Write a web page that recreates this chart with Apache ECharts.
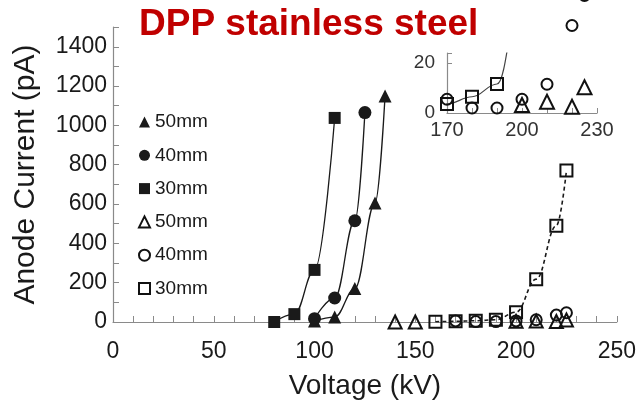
<!DOCTYPE html>
<html><head><meta charset="utf-8">
<script src="https://cdn.jsdelivr.net/npm/echarts@6/dist/echarts.min.js"></script>
<style>html,body{margin:0;padding:0;background:#fff}#c{width:639px;height:405px}</style>
</head><body><div id="c"></div>
<script>
// Filled symbols (solid fit lines)
const filled50 = [[100, 5], [110, 25], [120, 170], [130, 605], [135, 1150]];
const filled40 = [[100, 17], [110, 122], [120, 515], [125, 1065]];
const filled30 = [[80, 0], [90, 40], [100, 265], [110, 1038]];
// Open symbols
const open50 = [[140, 0], [150, 0], [200, 3.2], [210, 4.5], [220, 2.5], [225, 10.3]];
const open40 = [[170, 5.5], [180, 2], [190, 2], [200, 5.5], [210, 11.5], [220, 35], [225, 47]];
const open30 = [[160, 1], [170, 3.6], [180, 6.5], [190, 11.6], [200, 50], [210, 218], [220, 490], [225, 770]];
const legendNames = {f50: '50mm', f40: '40mm', f30: '30mm', o50: '50mm', o40: '40mm', o30: '30mm'};
const mainXLabels = [0, 50, 100, 150, 200, 250];
const mainYLabels = [0, 200, 400, 600, 800, 1000, 1200, 1400];
const insetXLabels = [170, 200, 230];
const insetYLabels = [0, 20];

const FONT = 'Liberation Sans, Arial, sans-serif';
const INK = '#1a1a1a';
const AX = '#8a8a8a';
const filledStyle = {color: INK, opacity: 1};
const openStyle = {color: 'rgba(255,255,255,0)', borderColor: '#111', borderWidth: 2, opacity: 1};

const chart = echarts.init(document.getElementById('c'));
chart.setOption({
  animation: false,
  backgroundColor: '#fff',
  title: {text: 'DPP stainless steel', left: 134, top: 1,
    textStyle: {fontFamily: FONT, fontSize: 37, fontWeight: 'bold', color: '#c00000'}},
  legend: {
    orient: 'vertical', left: 133, top: 107, itemWidth: 11, itemHeight: 11, itemGap: 13.3,
    textStyle: {fontFamily: FONT, fontSize: 19, color: INK, lineHeight: 20},
    formatter: n => legendNames[n],
    data: [{name: 'f50', icon: 'triangle'}, {name: 'f40', icon: 'circle'}, {name: 'f30', icon: 'rect'},
           {name: 'o50', icon: 'triangle'}, {name: 'o40', icon: 'circle'}, {name: 'o30', icon: 'rect'}]
  },
  grid: [
    {left: 113, right: 19, top: 27.1, bottom: 80},
    {left: 447, right: 42, top: 53, bottom: 292}
  ],
  xAxis: [
    {gridIndex: 0, type: 'value', min: 0, max: 250, interval: 10,
     name: 'Voltage (kV)', nameLocation: 'middle', nameGap: 50,
     nameTextStyle: {fontFamily: FONT, fontSize: 28, color: INK},
     axisLine: {lineStyle: {color: AX, width: 1.2}},
     axisTick: {inside: true, length: 6, lineStyle: {color: AX}},
     axisLabel: {fontFamily: FONT, fontSize: 23, color: INK, margin: 18,
       formatter: v => mainXLabels.includes(v) ? String(v) : ''},
     splitLine: {show: false}},
    {gridIndex: 1, type: 'value', min: 170, max: 230, interval: 10,
     axisLine: {lineStyle: {color: AX, width: 1.2}},
     axisTick: {inside: true, length: 5, lineStyle: {color: AX}},
     axisLabel: {fontFamily: FONT, fontSize: 20, color: '#333', margin: 7,
       formatter: v => insetXLabels.includes(v) ? String(v) : ''},
     splitLine: {show: false}}
  ],
  yAxis: [
    {gridIndex: 0, type: 'value', min: 0, max: 1500, interval: 100,
     name: 'Anode Current (pA)', nameLocation: 'middle', nameGap: 72,
     nameTextStyle: {fontFamily: FONT, fontSize: 30, color: INK},
     axisLine: {show: true, lineStyle: {color: AX, width: 1.2}},
     axisTick: {show: true, inside: true, length: 6, lineStyle: {color: AX}},
     axisLabel: {fontFamily: FONT, fontSize: 23, color: INK, margin: 6,
       formatter: v => mainYLabels.includes(v) ? String(v) : ''},
     splitLine: {show: false}},
    {gridIndex: 1, type: 'value', min: 0, max: 24, interval: 20,
     axisLine: {show: true, lineStyle: {color: AX, width: 1.2}},
     axisTick: {show: true, inside: true, length: 5, lineStyle: {color: AX}},
     axisLabel: {fontFamily: FONT, fontSize: 19, color: '#333', margin: 12,
       formatter: v => insetYLabels.includes(v) ? String(v) : ''},
     splitLine: {show: false}}
  ],
  series: [
    {name: 'f50', type: 'line', data: filled50, smooth: 0.4, smoothMonotone: 'x', symbol: 'triangle', symbolSize: 13,
     itemStyle: filledStyle, lineStyle: {color: INK, width: 1.3}, z: 3},
    {name: 'f40', type: 'line', data: filled40, smooth: 0.4, smoothMonotone: 'x', symbol: 'circle', symbolSize: 13,
     itemStyle: filledStyle, lineStyle: {color: INK, width: 1.3}, z: 3},
    {name: 'f30', type: 'line', data: filled30, smooth: 0.4, smoothMonotone: 'x', symbol: 'rect', symbolSize: 12,
     itemStyle: filledStyle, lineStyle: {color: INK, width: 1.3}, z: 3},
    {name: 'o50', type: 'scatter', data: open50, symbol: 'triangle', symbolSize: 13, itemStyle: openStyle, z: 3},
    {name: 'o40', type: 'scatter', data: open40, symbol: 'circle', symbolSize: 11, itemStyle: openStyle, z: 3},
    {name: 'o30', type: 'line', data: open30, smooth: 0.4, smoothMonotone: 'x', symbol: 'rect', symbolSize: 12,
     itemStyle: openStyle, lineStyle: {color: INK, width: 1.6, type: [4, 3]}, z: 3},
    // inset
    {name: 'i30', type: 'line', xAxisIndex: 1, yAxisIndex: 1, data: open30, smooth: 0.4, smoothMonotone: 'x',
     symbol: 'rect', symbolSize: 12, itemStyle: openStyle, lineStyle: {color: '#444', width: 1.2}, clip: true, z: 4},
    {name: 'i40', type: 'scatter', xAxisIndex: 1, yAxisIndex: 1, data: open40, symbol: 'circle', symbolSize: 11,
     itemStyle: openStyle, clip: false, z: 4},
    {name: 'i50', type: 'scatter', xAxisIndex: 1, yAxisIndex: 1, data: open50, symbol: 'triangle', symbolSize: 14,
     itemStyle: openStyle, clip: true, z: 4}
  ]
});
</script></body></html>
